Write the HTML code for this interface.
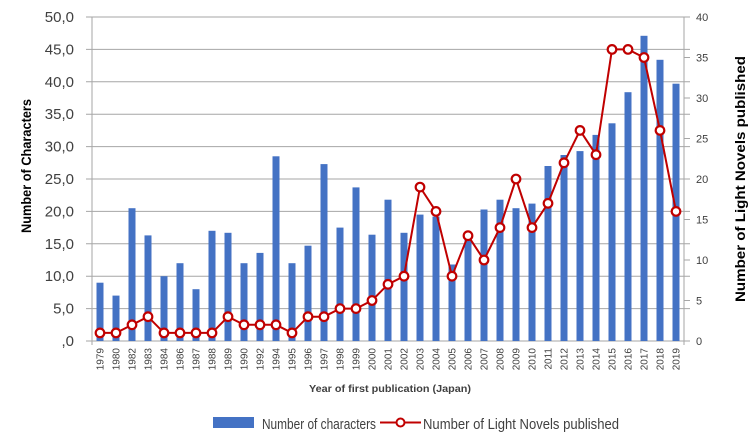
<!DOCTYPE html>
<html><head><meta charset="utf-8"><style>
html,body{margin:0;padding:0;background:#fff;}
svg{display:block;font-family:"Liberation Sans",sans-serif;}
</style></head><body>
<svg width="750" height="446" viewBox="0 0 750 446" xmlns="http://www.w3.org/2000/svg">
<rect width="750" height="446" fill="#fff"/>
<g stroke="#a6a6a6" stroke-width="1">
<line x1="86" y1="17" x2="690" y2="17"/><line x1="86" y1="49.4" x2="690" y2="49.4"/><line x1="86" y1="81.8" x2="690" y2="81.8"/><line x1="86" y1="114.2" x2="690" y2="114.2"/><line x1="86" y1="146.6" x2="690" y2="146.6"/><line x1="86" y1="179" x2="690" y2="179"/><line x1="86" y1="211.4" x2="690" y2="211.4"/><line x1="86" y1="243.8" x2="690" y2="243.8"/><line x1="86" y1="276.2" x2="690" y2="276.2"/><line x1="86" y1="308.6" x2="690" y2="308.6"/>
<line x1="86" y1="341" x2="690" y2="341"/>
<line x1="92" y1="17" x2="92" y2="345"/><line x1="684" y1="17" x2="684" y2="345"/>
<line x1="684" y1="300.5" x2="690" y2="300.5"/><line x1="684" y1="260" x2="690" y2="260"/><line x1="684" y1="219.5" x2="690" y2="219.5"/><line x1="684" y1="138.5" x2="690" y2="138.5"/><line x1="684" y1="98" x2="690" y2="98"/><line x1="684" y1="57.5" x2="690" y2="57.5"/>
</g>
<g fill="#4472c4">
<rect x="96.5" y="282.7" width="7" height="58.3"/><rect x="112.5" y="295.6" width="7" height="45.4"/><rect x="128.5" y="208.2" width="7" height="132.8"/><rect x="144.5" y="235.4" width="7" height="105.6"/><rect x="160.5" y="276.2" width="7" height="64.8"/><rect x="176.5" y="263.2" width="7" height="77.8"/><rect x="192.5" y="289.2" width="7" height="51.8"/><rect x="208.5" y="230.8" width="7" height="110.2"/><rect x="224.5" y="232.8" width="7" height="108.2"/><rect x="240.5" y="263.2" width="7" height="77.8"/><rect x="256.5" y="252.9" width="7" height="88.1"/><rect x="272.5" y="156.3" width="7" height="184.7"/><rect x="288.5" y="263.2" width="7" height="77.8"/><rect x="304.5" y="245.7" width="7" height="95.3"/><rect x="320.5" y="164.1" width="7" height="176.9"/><rect x="336.5" y="227.6" width="7" height="113.4"/><rect x="352.5" y="187.4" width="7" height="153.6"/><rect x="368.5" y="234.7" width="7" height="106.3"/><rect x="384.5" y="199.7" width="7" height="141.3"/><rect x="400.5" y="232.8" width="7" height="108.2"/><rect x="416.5" y="214.6" width="7" height="126.4"/><rect x="432.5" y="216.6" width="7" height="124.4"/><rect x="448.5" y="264.5" width="7" height="76.5"/><rect x="464.5" y="237.3" width="7" height="103.7"/><rect x="480.5" y="209.5" width="7" height="131.5"/><rect x="496.5" y="199.7" width="7" height="141.3"/><rect x="512.5" y="208.2" width="7" height="132.8"/><rect x="528.5" y="203.6" width="7" height="137.4"/><rect x="544.5" y="166" width="7" height="175"/><rect x="560.5" y="155" width="7" height="186"/><rect x="576.5" y="151.1" width="7" height="189.9"/><rect x="592.5" y="134.9" width="7" height="206.1"/><rect x="608.5" y="123.3" width="7" height="217.7"/><rect x="624.5" y="92.2" width="7" height="248.8"/><rect x="640.5" y="35.8" width="7" height="305.2"/><rect x="656.5" y="59.8" width="7" height="281.2"/><rect x="672.5" y="83.7" width="7" height="257.3"/>
</g>
<polyline fill="none" stroke="#c00000" stroke-width="2" points="100,332.9 116,332.9 132,324.8 148,316.7 164,332.9 180,332.9 196,332.9 212,332.9 228,316.7 244,324.8 260,324.8 276,324.8 292,332.9 308,316.7 324,316.7 340,308.6 356,308.6 372,300.5 388,284.3 404,276.2 420,187.1 436,211.4 452,276.2 468,235.7 484,260 500,227.6 516,179 532,227.6 548,203.3 564,162.8 580,130.4 596,154.7 612,49.4 628,49.4 644,57.5 660,130.4 676,211.4"/>
<g fill="#fff" stroke="#c00000" stroke-width="2.2">
<circle cx="100" cy="332.9" r="4.3"/><circle cx="116" cy="332.9" r="4.3"/><circle cx="132" cy="324.8" r="4.3"/><circle cx="148" cy="316.7" r="4.3"/><circle cx="164" cy="332.9" r="4.3"/><circle cx="180" cy="332.9" r="4.3"/><circle cx="196" cy="332.9" r="4.3"/><circle cx="212" cy="332.9" r="4.3"/><circle cx="228" cy="316.7" r="4.3"/><circle cx="244" cy="324.8" r="4.3"/><circle cx="260" cy="324.8" r="4.3"/><circle cx="276" cy="324.8" r="4.3"/><circle cx="292" cy="332.9" r="4.3"/><circle cx="308" cy="316.7" r="4.3"/><circle cx="324" cy="316.7" r="4.3"/><circle cx="340" cy="308.6" r="4.3"/><circle cx="356" cy="308.6" r="4.3"/><circle cx="372" cy="300.5" r="4.3"/><circle cx="388" cy="284.3" r="4.3"/><circle cx="404" cy="276.2" r="4.3"/><circle cx="420" cy="187.1" r="4.3"/><circle cx="436" cy="211.4" r="4.3"/><circle cx="452" cy="276.2" r="4.3"/><circle cx="468" cy="235.7" r="4.3"/><circle cx="484" cy="260" r="4.3"/><circle cx="500" cy="227.6" r="4.3"/><circle cx="516" cy="179" r="4.3"/><circle cx="532" cy="227.6" r="4.3"/><circle cx="548" cy="203.3" r="4.3"/><circle cx="564" cy="162.8" r="4.3"/><circle cx="580" cy="130.4" r="4.3"/><circle cx="596" cy="154.7" r="4.3"/><circle cx="612" cy="49.4" r="4.3"/><circle cx="628" cy="49.4" r="4.3"/><circle cx="644" cy="57.5" r="4.3"/><circle cx="660" cy="130.4" r="4.3"/><circle cx="676" cy="211.4" r="4.3"/>
</g>
<g font-size="15" fill="#404040" text-anchor="end">
<text x="74" y="22">50,0</text><text x="74" y="54.4">45,0</text><text x="74" y="86.8">40,0</text><text x="74" y="119.2">35,0</text><text x="74" y="151.6">30,0</text><text x="74" y="184">25,0</text><text x="74" y="216.4">20,0</text><text x="74" y="248.8">15,0</text><text x="74" y="281.2">10,0</text><text x="74" y="313.6">5,0</text><text x="74" y="346">,0</text>
</g>
<g font-size="11" fill="#404040">
<text x="696" y="21">40</text><text x="696" y="61.5">35</text><text x="696" y="102">30</text><text x="696" y="142.5">25</text><text x="696" y="183">20</text><text x="696" y="223.5">15</text><text x="696" y="264">10</text><text x="696" y="304.5">5</text><text x="696" y="345">0</text>
</g>
<g font-size="10" fill="#404040" text-anchor="end">
<text transform="translate(103.5,348) rotate(-90)">1979</text><text transform="translate(119.5,348) rotate(-90)">1980</text><text transform="translate(135.5,348) rotate(-90)">1982</text><text transform="translate(151.5,348) rotate(-90)">1983</text><text transform="translate(167.5,348) rotate(-90)">1984</text><text transform="translate(183.5,348) rotate(-90)">1986</text><text transform="translate(199.5,348) rotate(-90)">1987</text><text transform="translate(215.5,348) rotate(-90)">1988</text><text transform="translate(231.5,348) rotate(-90)">1989</text><text transform="translate(247.5,348) rotate(-90)">1990</text><text transform="translate(263.5,348) rotate(-90)">1992</text><text transform="translate(279.5,348) rotate(-90)">1994</text><text transform="translate(295.5,348) rotate(-90)">1995</text><text transform="translate(311.5,348) rotate(-90)">1996</text><text transform="translate(327.5,348) rotate(-90)">1997</text><text transform="translate(343.5,348) rotate(-90)">1998</text><text transform="translate(359.5,348) rotate(-90)">1999</text><text transform="translate(375.5,348) rotate(-90)">2000</text><text transform="translate(391.5,348) rotate(-90)">2001</text><text transform="translate(407.5,348) rotate(-90)">2002</text><text transform="translate(423.5,348) rotate(-90)">2003</text><text transform="translate(439.5,348) rotate(-90)">2004</text><text transform="translate(455.5,348) rotate(-90)">2005</text><text transform="translate(471.5,348) rotate(-90)">2006</text><text transform="translate(487.5,348) rotate(-90)">2007</text><text transform="translate(503.5,348) rotate(-90)">2008</text><text transform="translate(519.5,348) rotate(-90)">2009</text><text transform="translate(535.5,348) rotate(-90)">2010</text><text transform="translate(551.5,348) rotate(-90)">2011</text><text transform="translate(567.5,348) rotate(-90)">2012</text><text transform="translate(583.5,348) rotate(-90)">2013</text><text transform="translate(599.5,348) rotate(-90)">2014</text><text transform="translate(615.5,348) rotate(-90)">2015</text><text transform="translate(631.5,348) rotate(-90)">2016</text><text transform="translate(647.5,348) rotate(-90)">2017</text><text transform="translate(663.5,348) rotate(-90)">2018</text><text transform="translate(679.5,348) rotate(-90)">2019</text>
</g>
<text x="390" y="392" font-size="10" font-weight="bold" fill="#404040" text-anchor="middle" textLength="162" lengthAdjust="spacingAndGlyphs">Year of first publication (Japan)</text>
<text transform="translate(31,166) rotate(-90)" font-size="14" font-weight="bold" fill="#000" text-anchor="middle" textLength="134" lengthAdjust="spacingAndGlyphs">Number of Characters</text>
<text transform="translate(745,179) rotate(-90)" font-size="14" font-weight="bold" fill="#000" text-anchor="middle" textLength="246" lengthAdjust="spacingAndGlyphs">Number of Light Novels published</text>
<rect x="213" y="417" width="41" height="11" fill="#4472c4"/>
<text x="262" y="429" font-size="15" fill="#404040" textLength="114" lengthAdjust="spacingAndGlyphs">Number of characters</text>
<line x1="380" y1="422.5" x2="421" y2="422.5" stroke="#c00000" stroke-width="2"/>
<circle cx="400.5" cy="422.5" r="4" fill="#fff" stroke="#c00000" stroke-width="2"/>
<text x="423" y="429" font-size="15" fill="#404040" textLength="196" lengthAdjust="spacingAndGlyphs">Number of Light Novels published</text>
</svg>
</body></html>
